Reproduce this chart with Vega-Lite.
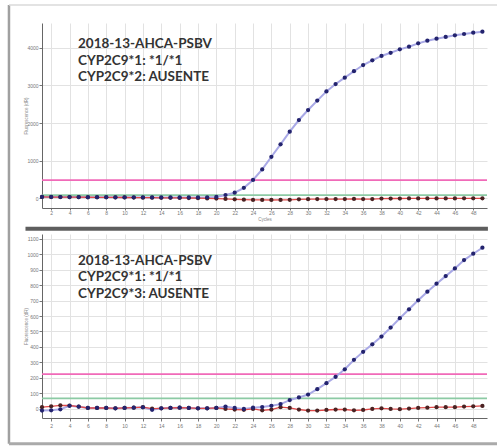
{
  "$schema": "https://vega.github.io/schema/vega-lite/v6.json",
  "padding": {"left": 7, "top": 3, "right": 0, "bottom": 0},
  "background": "white",
  "spacing": 26,
  "bounds": "flush",
  "config": {
    "view": {"stroke": null},
    "axis": {
      "labelFontSize": 5, "labelColor": "#777", "labelFont": "Liberation Sans", "labelOverlap": false, "labelSeparation": 0,
      "titleFontSize": 4.5, "titleColor": "#888", "titleFont": "Liberation Sans", "titleFontWeight": "normal",
      "gridColor": "#e2e2e2", "gridWidth": 1,
      "domainColor": "#666", "tickColor": "#777", "tickSize": 3
    },
    "axisX": {"labelOverlap": false},
    "axisY": {"labelOverlap": false}
  },
  "datasets": {
    "top": [
      {"series":"amp","cycle":1,"value":40},{"series":"amp","cycle":2,"value":38},{"series":"amp","cycle":3,"value":37},{"series":"amp","cycle":4,"value":36},{"series":"amp","cycle":5,"value":35},{"series":"amp","cycle":6,"value":33},{"series":"amp","cycle":7,"value":32},{"series":"amp","cycle":8,"value":31},{"series":"amp","cycle":9,"value":30},{"series":"amp","cycle":10,"value":30},{"series":"amp","cycle":11,"value":28},{"series":"amp","cycle":12,"value":27},{"series":"amp","cycle":13,"value":26},{"series":"amp","cycle":14,"value":25},{"series":"amp","cycle":15,"value":25},{"series":"amp","cycle":16,"value":24},{"series":"amp","cycle":17,"value":24},{"series":"amp","cycle":18,"value":25},{"series":"amp","cycle":19,"value":28},{"series":"amp","cycle":20,"value":40},{"series":"amp","cycle":21,"value":90},{"series":"amp","cycle":22,"value":150},{"series":"amp","cycle":23,"value":280},{"series":"amp","cycle":24,"value":490},{"series":"amp","cycle":25,"value":770},{"series":"amp","cycle":26,"value":1105},{"series":"amp","cycle":27,"value":1435},{"series":"amp","cycle":28,"value":1770},{"series":"amp","cycle":29,"value":2080},{"series":"amp","cycle":30,"value":2345},{"series":"amp","cycle":31,"value":2595},{"series":"amp","cycle":32,"value":2840},{"series":"amp","cycle":33,"value":3035},{"series":"amp","cycle":34,"value":3205},{"series":"amp","cycle":35,"value":3375},{"series":"amp","cycle":36,"value":3540},{"series":"amp","cycle":37,"value":3665},{"series":"amp","cycle":38,"value":3780},{"series":"amp","cycle":39,"value":3865},{"series":"amp","cycle":40,"value":3955},{"series":"amp","cycle":41,"value":4025},{"series":"amp","cycle":42,"value":4115},{"series":"amp","cycle":43,"value":4185},{"series":"amp","cycle":44,"value":4238},{"series":"amp","cycle":45,"value":4284},{"series":"amp","cycle":46,"value":4328},{"series":"amp","cycle":47,"value":4363},{"series":"amp","cycle":48,"value":4398},{"series":"amp","cycle":49,"value":4424},
      {"series":"base","cycle":1,"value":38},{"series":"base","cycle":2,"value":36},{"series":"base","cycle":3,"value":35},{"series":"base","cycle":4,"value":34},{"series":"base","cycle":5,"value":33},{"series":"base","cycle":6,"value":30},{"series":"base","cycle":7,"value":28},{"series":"base","cycle":8,"value":27},{"series":"base","cycle":9,"value":25},{"series":"base","cycle":10,"value":24},{"series":"base","cycle":11,"value":22},{"series":"base","cycle":12,"value":20},{"series":"base","cycle":13,"value":18},{"series":"base","cycle":14,"value":16},{"series":"base","cycle":15,"value":14},{"series":"base","cycle":16,"value":12},{"series":"base","cycle":17,"value":10},{"series":"base","cycle":18,"value":5},{"series":"base","cycle":19,"value":0},{"series":"base","cycle":20,"value":-5},{"series":"base","cycle":21,"value":-15},{"series":"base","cycle":22,"value":-25},{"series":"base","cycle":23,"value":-35},{"series":"base","cycle":24,"value":-40},{"series":"base","cycle":25,"value":-42},{"series":"base","cycle":26,"value":-42},{"series":"base","cycle":27,"value":-40},{"series":"base","cycle":28,"value":-38},{"series":"base","cycle":29,"value":-25},{"series":"base","cycle":30,"value":-20},{"series":"base","cycle":31,"value":-18},{"series":"base","cycle":32,"value":-18},{"series":"base","cycle":33,"value":-18},{"series":"base","cycle":34,"value":-18},{"series":"base","cycle":35,"value":-15},{"series":"base","cycle":36,"value":-18},{"series":"base","cycle":37,"value":-18},{"series":"base","cycle":38,"value":-5},{"series":"base","cycle":39,"value":-3},{"series":"base","cycle":40,"value":-3},{"series":"base","cycle":41,"value":-2},{"series":"base","cycle":42,"value":-2},{"series":"base","cycle":43,"value":0},{"series":"base","cycle":44,"value":0},{"series":"base","cycle":45,"value":0},{"series":"base","cycle":46,"value":0},{"series":"base","cycle":47,"value":2},{"series":"base","cycle":48,"value":2},{"series":"base","cycle":49,"value":3}
    ],
    "bottom": [
      {"series":"amp","cycle":1,"value":-13},{"series":"amp","cycle":2,"value":-11},{"series":"amp","cycle":3,"value":-5},{"series":"amp","cycle":4,"value":18},{"series":"amp","cycle":5,"value":12},{"series":"amp","cycle":6,"value":4},{"series":"amp","cycle":7,"value":4},{"series":"amp","cycle":8,"value":4},{"series":"amp","cycle":9,"value":2},{"series":"amp","cycle":10,"value":4},{"series":"amp","cycle":11,"value":6},{"series":"amp","cycle":12,"value":8},{"series":"amp","cycle":13,"value":-8},{"series":"amp","cycle":14,"value":2},{"series":"amp","cycle":15,"value":4},{"series":"amp","cycle":16,"value":6},{"series":"amp","cycle":17,"value":4},{"series":"amp","cycle":18,"value":2},{"series":"amp","cycle":19,"value":2},{"series":"amp","cycle":20,"value":4},{"series":"amp","cycle":21,"value":13},{"series":"amp","cycle":22,"value":4},{"series":"amp","cycle":23,"value":-2},{"series":"amp","cycle":24,"value":6},{"series":"amp","cycle":25,"value":10},{"series":"amp","cycle":26,"value":18},{"series":"amp","cycle":27,"value":29},{"series":"amp","cycle":28,"value":55},{"series":"amp","cycle":29,"value":72},{"series":"amp","cycle":30,"value":91},{"series":"amp","cycle":31,"value":126},{"series":"amp","cycle":32,"value":165},{"series":"amp","cycle":33,"value":206},{"series":"amp","cycle":34,"value":255},{"series":"amp","cycle":35,"value":316},{"series":"amp","cycle":36,"value":368},{"series":"amp","cycle":37,"value":417},{"series":"amp","cycle":38,"value":467},{"series":"amp","cycle":39,"value":525},{"series":"amp","cycle":40,"value":586},{"series":"amp","cycle":41,"value":644},{"series":"amp","cycle":42,"value":702},{"series":"amp","cycle":43,"value":758},{"series":"amp","cycle":44,"value":810},{"series":"amp","cycle":45,"value":859},{"series":"amp","cycle":46,"value":909},{"series":"amp","cycle":47,"value":963},{"series":"amp","cycle":48,"value":1004},{"series":"amp","cycle":49,"value":1043},
      {"series":"base","cycle":1,"value":9},{"series":"base","cycle":2,"value":15},{"series":"base","cycle":3,"value":21},{"series":"base","cycle":4,"value":20},{"series":"base","cycle":5,"value":13},{"series":"base","cycle":6,"value":4},{"series":"base","cycle":7,"value":4},{"series":"base","cycle":8,"value":4},{"series":"base","cycle":9,"value":2},{"series":"base","cycle":10,"value":4},{"series":"base","cycle":11,"value":6},{"series":"base","cycle":12,"value":9},{"series":"base","cycle":13,"value":0},{"series":"base","cycle":14,"value":2},{"series":"base","cycle":15,"value":4},{"series":"base","cycle":16,"value":6},{"series":"base","cycle":17,"value":4},{"series":"base","cycle":18,"value":2},{"series":"base","cycle":19,"value":2},{"series":"base","cycle":20,"value":4},{"series":"base","cycle":21,"value":-2},{"series":"base","cycle":22,"value":-6},{"series":"base","cycle":23,"value":-8},{"series":"base","cycle":24,"value":-2},{"series":"base","cycle":25,"value":-11},{"series":"base","cycle":26,"value":-6},{"series":"base","cycle":27,"value":9},{"series":"base","cycle":28,"value":4},{"series":"base","cycle":29,"value":-6},{"series":"base","cycle":30,"value":-13},{"series":"base","cycle":31,"value":-13},{"series":"base","cycle":32,"value":-9},{"series":"base","cycle":33,"value":-6},{"series":"base","cycle":34,"value":-6},{"series":"base","cycle":35,"value":-11},{"series":"base","cycle":36,"value":-9},{"series":"base","cycle":37,"value":-2},{"series":"base","cycle":38,"value":2},{"series":"base","cycle":39,"value":-2},{"series":"base","cycle":40,"value":-4},{"series":"base","cycle":41,"value":0},{"series":"base","cycle":42,"value":4},{"series":"base","cycle":43,"value":6},{"series":"base","cycle":44,"value":9},{"series":"base","cycle":45,"value":9},{"series":"base","cycle":46,"value":9},{"series":"base","cycle":47,"value":13},{"series":"base","cycle":48,"value":15},{"series":"base","cycle":49,"value":17}
    ]
  },
  "vconcat": [
    {
      "width": 445, "height": 185,
      "encoding": {
        "x": {"type": "quantitative", "scale": {"domain": [1, 49.5], "nice": false, "zero": false},
          "axis": {"title": "Cycles", "format": "d", "labelOverlap": false, "values": [2,4,6,8,10,12,14,16,18,20,22,24,26,28,30,32,34,36,38,40,42,44,46,48], "tickSize": 2, "labelPadding": 0, "titlePadding": 1}},
        "y": {"type": "quantitative", "scale": {"domain": [-255, 4655], "nice": false, "zero": false},
          "axis": {"title": "Fluorescence (dR)", "format": "d", "labelOverlap": false, "values": [0, 1000, 2000, 3000, 4000], "labelPadding": 1, "minExtent": 12, "maxExtent": 12, "titlePadding": 2}}
      },
      "layer": [
        {
          "data": {"values": [{"x1": -2.6, "x2": -2.6, "y1": 5133, "y2": -6512}]},
          "mark": {"type": "rule", "clip": false, "color": "#a0a0a0", "strokeWidth": 2.5},
          "encoding": {"x": {"field": "x1"}, "x2": {"field": "x2"}, "y": {"field": "y1"}, "y2": {"field": "y2"}}
        },
        {
          "data": {"values": [{"x1": -2.6, "x2": 50.9, "y1": 5133}]},
          "mark": {"type": "rule", "clip": false, "color": "#dadada", "strokeWidth": 1.5},
          "encoding": {"x": {"field": "x1"}, "x2": {"field": "x2"}, "y": {"field": "y1"}}
        },
        {
          "data": {"values": [{"x1": -2.6, "x2": 50.9, "y1": -6512}]},
          "mark": {"type": "rule", "clip": false, "color": "#aaaaaa", "strokeWidth": 3},
          "encoding": {"x": {"field": "x1"}, "x2": {"field": "x2"}, "y": {"field": "y1"}}
        },
        {
          "data": {"values": [{"x1": 1, "x2": 49.5, "t": 483}]},
          "mark": {"type": "rule", "strokeWidth": 1.8, "color": "#f06ab8"},
          "encoding": {"x": {"field": "x1"}, "x2": {"field": "x2"}, "y": {"field": "t"}}
        },
        {
          "data": {"values": [{"x1": 1, "x2": 49.5, "t": 85}]},
          "mark": {"type": "rule", "strokeWidth": 1.8, "color": "#8ccaa4"},
          "encoding": {"x": {"field": "x1"}, "x2": {"field": "x2"}, "y": {"field": "t"}}
        },
        {
          "data": {"values": [{"x1": -0.8, "x2": 49.6, "y": -809}]},
          "mark": {"type": "rule", "strokeWidth": 4, "color": "#5e5e5e", "clip": false},
          "encoding": {"x": {"field": "x1"}, "x2": {"field": "x2"}, "y": {"field": "y"}}
        },
        {
          "data": {"name": "top"},
          "transform": [{"filter": {"field": "series", "equal": "amp"}}],
          "mark": {"type": "line", "color": "#a9a9e6", "strokeWidth": 2},
          "encoding": {"x": {"field": "cycle"}, "y": {"field": "value"}}
        },
        {
          "data": {"name": "top"},
          "transform": [{"filter": {"field": "series", "equal": "base"}}],
          "mark": {"type": "line", "color": "#e04848", "strokeWidth": 1.3},
          "encoding": {"x": {"field": "cycle"}, "y": {"field": "value"}}
        },
        {
          "data": {"name": "top"},
          "transform": [{"filter": {"field": "series", "equal": "base"}}],
          "mark": {"type": "point", "filled": true, "size": 18, "color": "#4a2222", "opacity": 1},
          "encoding": {"x": {"field": "cycle"}, "y": {"field": "value"}}
        },
        {
          "data": {"name": "top"},
          "transform": [{"filter": {"field": "series", "equal": "amp"}}],
          "mark": {"type": "point", "filled": true, "size": 18, "color": "#23236e", "opacity": 1},
          "encoding": {"x": {"field": "cycle"}, "y": {"field": "value"}}
        },
        {
          "data": {"values": [
            {"label": "2018-13-AHCA-PSBV", "x": 4.92, "y": 4098},
            {"label": "CYP2C9*1: *1/*1", "x": 4.92, "y": 3647},
            {"label": "CYP2C9*2: AUSENTE", "x": 4.92, "y": 3223}
          ]},
          "mark": {"type": "text", "align": "left", "baseline": "middle", "font": "Lato", "fontWeight": "bold", "fontSize": 13.5, "color": "#333333"},
          "encoding": {"x": {"field": "x"}, "y": {"field": "y"}, "text": {"field": "label"}}
        }
      ]
    },
    {
      "width": 445, "height": 184,
      "encoding": {
        "x": {"type": "quantitative", "scale": {"domain": [1, 49.5], "nice": false, "zero": false},
          "axis": {"title": null, "format": "d", "labelOverlap": false, "values": [2,4,6,8,10,12,14,16,18,20,22,24,26,28,30,32,34,36,38,40,42,44,46,48], "labelPadding": 2}},
        "y": {"type": "quantitative", "scale": {"domain": [-61, 1132], "nice": false, "zero": false},
          "axis": {"title": "Fluorescence (dR)", "format": "d", "labelOverlap": false, "values": [0, 100, 200, 300, 400, 500, 600, 700, 800, 900, 1000, 1100], "labelPadding": 1, "minExtent": 12, "maxExtent": 12, "titlePadding": 2}}
      },
      "layer": [
        {
          "data": {"values": [{"x1": 1, "x2": 49.5, "t": 223}]},
          "mark": {"type": "rule", "strokeWidth": 1.8, "color": "#f06ab8"},
          "encoding": {"x": {"field": "x1"}, "x2": {"field": "x2"}, "y": {"field": "t"}}
        },
        {
          "data": {"values": [{"x1": 1, "x2": 49.5, "t": 66}]},
          "mark": {"type": "rule", "strokeWidth": 1.8, "color": "#8ccaa4"},
          "encoding": {"x": {"field": "x1"}, "x2": {"field": "x2"}, "y": {"field": "t"}}
        },
        {
          "data": {"name": "bottom"},
          "transform": [{"filter": {"field": "series", "equal": "amp"}}],
          "mark": {"type": "line", "color": "#a9a9e6", "strokeWidth": 2},
          "encoding": {"x": {"field": "cycle"}, "y": {"field": "value"}}
        },
        {
          "data": {"name": "bottom"},
          "transform": [{"filter": {"field": "series", "equal": "base"}}],
          "mark": {"type": "line", "color": "#e04848", "strokeWidth": 1.3},
          "encoding": {"x": {"field": "cycle"}, "y": {"field": "value"}}
        },
        {
          "data": {"name": "bottom"},
          "transform": [{"filter": {"field": "series", "equal": "base"}}],
          "mark": {"type": "point", "filled": true, "size": 18, "color": "#4a2222", "opacity": 1},
          "encoding": {"x": {"field": "cycle"}, "y": {"field": "value"}}
        },
        {
          "data": {"name": "bottom"},
          "transform": [{"filter": {"field": "series", "equal": "amp"}}],
          "mark": {"type": "point", "filled": true, "size": 18, "color": "#23236e", "opacity": 1},
          "encoding": {"x": {"field": "cycle"}, "y": {"field": "value"}}
        },
        {
          "data": {"values": [
            {"label": "2018-13-AHCA-PSBV", "x": 4.92, "y": 957},
            {"label": "CYP2C9*1: *1/*1", "x": 4.92, "y": 853},
            {"label": "CYP2C9*3: AUSENTE", "x": 4.92, "y": 741}
          ]},
          "mark": {"type": "text", "align": "left", "baseline": "middle", "font": "Lato", "fontWeight": "bold", "fontSize": 13.5, "color": "#333333"},
          "encoding": {"x": {"field": "x"}, "y": {"field": "y"}, "text": {"field": "label"}}
        }
      ]
    }
  ]
}
